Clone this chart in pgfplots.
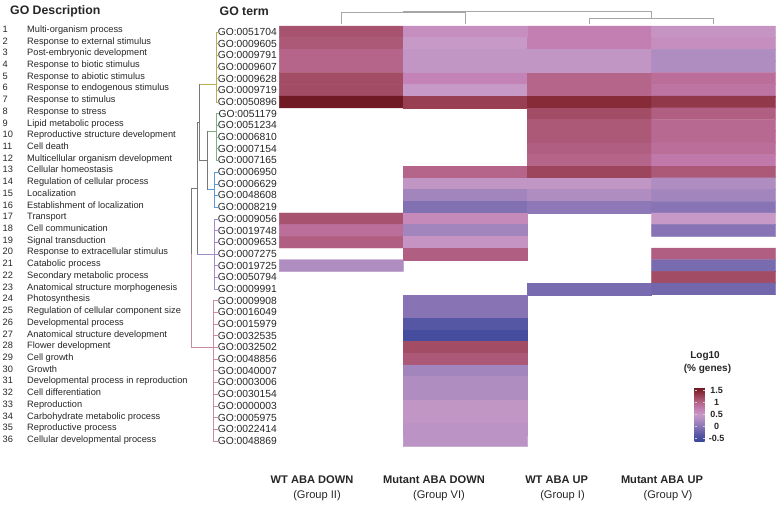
\documentclass[border=0pt]{standalone}
\usepackage{pgfplots}
\pgfplotsset{compat=1.18}
\usepackage{fontspec}
\setmainfont{Liberation Sans}
\pgfplotsset{
 colormap={go}{rgb255(0pt)=(58,70,155) rgb255(30pt)=(92,90,166) rgb255(60pt)=(136,116,181) rgb255(90pt)=(176,141,193) rgb255(110pt)=(199,153,199) rgb255(135pt)=(195,126,178) rgb255(160pt)=(181,100,138) rgb255(180pt)=(163,76,101) rgb255(205pt)=(135,43,57) rgb255(225pt)=(105,20,30)}
}
\definecolor{dolive}{RGB}{181,174,94}
\definecolor{dgreen}{RGB}{127,175,127}
\definecolor{dblue}{RGB}{91,155,213}
\definecolor{dpurple}{RGB}{160,140,200}
\definecolor{dpink}{RGB}{199,139,165}
\definecolor{dgray}{RGB}{120,120,120}
\begin{document}
\begin{tikzpicture}[x=1pt,y=1pt]
\path[use as bounding box] (0pt,0pt) rectangle (777pt,504pt);
\begin{axis}[
 at={(279.3pt,57.3pt)}, anchor=south west,
 scale only axis, width=496.4pt, height=420.7pt,
 xmin=-0.5, xmax=3.5, ymin=0.5, ymax=36.5, y dir=reverse,
 axis line style={draw=none}, xtick=\empty,
 ytick={1,...,36},
 yticklabels={GO:0051704,GO:0009605,GO:0009791,GO:0009607,GO:0009628,GO:0009719,GO:0050896,GO:0051179,GO:0051234,GO:0006810,GO:0007154,GO:0007165,GO:0006950,GO:0006629,GO:0048608,GO:0008219,GO:0009056,GO:0019748,GO:0009653,GO:0007275,GO:0019725,GO:0050794,GO:0009991,GO:0009908,GO:0016049,GO:0015979,GO:0032535,GO:0032502,GO:0048856,GO:0040007,GO:0003006,GO:0030154,GO:0000003,GO:0005975,GO:0022414,GO:0048869},
 yticklabel style={font=\fontsize{10.3}{12}\selectfont, inner sep=0pt, xshift=-2.3pt, text=black!85},
 major tick length=0pt,
 clip=false,
 colormap name=go, point meta min=-0.6, point meta max=1.65,
 colorbar,
 colorbar style={
  at={(parent axis.south east)}, anchor=south west, xshift=-89.7pt, yshift=5.7pt,
  scale only axis, width=10pt, height=54pt, y dir=normal,
  ytick={-0.5,0,0.5,1,1.5}, yticklabels={-0.5,0,0.5,1,1.5},
  yticklabel style={font=\bfseries\fontsize{9}{10}\selectfont, anchor=center, xshift=12pt, inner sep=0pt, text=black!85},
  axis line style={draw=none},
  major tick length=2pt, tick align=inside, tick style={white!80!black, line width=0.5pt}
 }
]
\addplot[matrix plot*, mesh/cols=4, point meta=explicit] table[meta=c] {
x y c
0 1 1.15
1 1 0.60
2 1 0.75
3 1 0.55
0 2 1.10
1 2 0.50
2 2 0.75
3 2 0.60
0 3 1.00
1 3 0.45
2 3 0.45
3 3 0.30
0 4 1.00
1 4 0.45
2 4 0.45
3 4 0.30
0 5 1.20
1 5 0.70
2 5 1.00
3 5 0.90
0 6 1.20
1 6 0.50
2 6 1.00
3 6 0.85
0 7 1.60
1 7 1.30
2 7 1.45
3 7 1.35
0 8 nan
1 8 nan
2 8 1.20
3 8 1.05
0 9 nan
1 9 nan
2 9 1.10
3 9 0.95
0 10 nan
1 10 nan
2 10 1.10
3 10 0.95
0 11 nan
1 11 nan
2 11 1.05
3 11 0.90
0 12 nan
1 12 nan
2 12 1.00
3 12 0.80
0 13 nan
1 13 1.00
2 13 1.25
3 13 1.10
0 14 nan
1 14 0.45
2 14 0.45
3 14 0.30
0 15 nan
1 15 0.20
2 15 0.30
3 15 0.20
0 16 nan
1 16 -0.05
2 16 0.05
3 16 0.00
0 17 1.15
1 17 0.65
2 17 nan
3 17 0.50
0 18 0.90
1 18 0.20
2 18 nan
3 18 0.00
0 19 1.05
1 19 0.55
2 19 nan
3 19 nan
0 20 nan
1 20 1.05
2 20 nan
3 20 1.05
0 21 0.30
1 21 nan
2 21 nan
3 21 -0.10
0 22 nan
1 22 nan
2 22 nan
3 22 1.20
0 23 nan
1 23 nan
2 23 -0.10
3 23 -0.15
0 24 nan
1 24 0.00
2 24 nan
3 24 nan
0 25 nan
1 25 0.00
2 25 nan
3 25 nan
0 26 nan
1 26 -0.35
2 26 nan
3 26 nan
0 27 nan
1 27 -0.50
2 27 nan
3 27 nan
0 28 nan
1 28 1.20
2 28 nan
3 28 nan
0 29 nan
1 29 1.10
2 29 nan
3 29 nan
0 30 nan
1 30 0.20
2 30 nan
3 30 nan
0 31 nan
1 31 0.30
2 31 nan
3 31 nan
0 32 nan
1 32 0.30
2 32 nan
3 32 nan
0 33 nan
1 33 0.45
2 33 nan
3 33 nan
0 34 nan
1 34 0.45
2 34 nan
3 34 nan
0 35 nan
1 35 0.40
2 35 nan
3 35 nan
0 36 nan
1 36 0.40
2 36 nan
3 36 nan
};
% column dendrogram
\addplot[gray!70, line width=0.8pt, mark=none, forget plot] coordinates {(0,0.329) (0,-0.638) (1,-0.638) (1,0.329)};
\addplot[gray!70, line width=0.8pt, mark=none, forget plot] coordinates {(2,0.329) (2,-0.159) (3,-0.159) (3,0.329)};
\addplot[gray!70, line width=0.8pt, mark=none, forget plot] coordinates {(0.5,-0.638) (0.5,-0.784) (2.5,-0.784) (2.5,-0.159)};
% row dendrogram
\addplot[dolive, line width=0.5pt, mark=none, unbounded coords=jump, forget plot] coordinates {(-0.9883,1) (-1.0044,1) (-1.0044,7) (-0.9883,7) (nan,nan) (-0.9883,2) (-1.0044,2) (nan,nan) (-0.9883,3) (-1.0044,3) (nan,nan) (-0.9883,4) (-1.0044,4) (nan,nan) (-0.9883,5) (-1.0044,5) (nan,nan) (-0.9883,6) (-1.0044,6) (nan,nan) (-1.0044,5.5) (-1.1471,5.5)};
\addplot[dgreen, line width=0.5pt, mark=none, unbounded coords=jump, forget plot] coordinates {(-0.9883,8) (-1.0044,8) (-1.0044,12) (-0.9883,12) (nan,nan) (-0.9883,9) (-1.0044,9) (nan,nan) (-0.9883,10) (-1.0044,10) (nan,nan) (-0.9883,11) (-1.0044,11) (nan,nan) (-1.0044,9.5) (-1.0826,9.5)};
\addplot[dblue, line width=0.5pt, mark=none, unbounded coords=jump, forget plot] coordinates {(-0.9883,13) (-1.0262,13) (-1.0262,16) (-0.9883,16) (nan,nan) (-0.9883,14) (-1.0262,14) (nan,nan) (-0.9883,15) (-1.0262,15) (nan,nan) (-1.0262,14.5) (-1.0826,14.5)};
\addplot[dgray, line width=0.5pt, mark=none, unbounded coords=jump, forget plot] coordinates {(-1.0826,9.5) (-1.0826,14.5) (nan,nan) (-1.0826,12) (-1.1471,12) (nan,nan) (-1.1471,5.5) (-1.1471,12) (nan,nan) (-1.1471,8.75) (-1.1632,8.75) (nan,nan) (-1.1632,8.75) (-1.1632,20) (nan,nan) (-1.1632,14.4) (-1.2115,14.4) (-1.2115,20)};
\addplot[dpurple, line width=0.5pt, mark=none, unbounded coords=jump, forget plot] coordinates {(-0.9883,17) (-1.0262,17) (-1.0262,23) (-0.9883,23) (nan,nan) (-0.9883,18) (-1.0262,18) (nan,nan) (-0.9883,19) (-1.0262,19) (nan,nan) (-0.9883,20) (-1.0262,20) (nan,nan) (-0.9883,21) (-1.0262,21) (nan,nan) (-0.9883,22) (-1.0262,22) (nan,nan) (-1.0262,20) (-1.1632,20)};
\addplot[dpink, line width=0.5pt, mark=none, unbounded coords=jump, forget plot] coordinates {(-1.2115,20) (-1.2115,28) (-1.0302,28) (nan,nan) (-0.9883,24) (-1.0302,24) (-1.0302,36) (-0.9883,36) (nan,nan) (-0.9883,25) (-1.0302,25) (nan,nan) (-0.9883,26) (-1.0302,26) (nan,nan) (-0.9883,27) (-1.0302,27) (nan,nan) (-0.9883,28) (-1.0302,28) (nan,nan) (-0.9883,29) (-1.0302,29) (nan,nan) (-0.9883,30) (-1.0302,30) (nan,nan) (-0.9883,31) (-1.0302,31) (nan,nan) (-0.9883,32) (-1.0302,32) (nan,nan) (-0.9883,33) (-1.0302,33) (nan,nan) (-0.9883,34) (-1.0302,34) (nan,nan) (-0.9883,35) (-1.0302,35)};
\end{axis}
% headers
\node[anchor=base west, inner sep=0pt, font=\bfseries\fontsize{12.3}{14}\selectfont, text=black!85] at (10,489) {GO Description};
\node[anchor=base west, inner sep=0pt, font=\bfseries\fontsize{12.3}{14}\selectfont, text=black!85] at (219.5,488.5) {GO term};
% description list
\foreach \i/\t in {1/Multi-organism process,2/Response to external stimulus,3/Post-embryonic development,4/Response to biotic stimulus,5/Response to abiotic stimulus,6/Response to endogenous stimulus,7/Response to stimulus,8/Response to stress,9/Lipid metabolic process,10/Reproductive structure development,11/Cell death,12/Multicellular organism development,13/Cellular homeostasis,14/Regulation of cellular process,15/Localization,16/Establishment of localization,17/Transport,18/Cell communication,19/Signal transduction,20/Response to extracellular stimulus,21/Catabolic process,22/Secondary metabolic process,23/Anatomical structure morphogenesis,24/Photosynthesis,25/Regulation of cellular component size,26/Developmental process,27/Anatomical structure development,28/Flower development,29/Cell growth,30/Growth,31/Developmental process in reproduction,32/Cell differentiation,33/Reproduction,34/Carbohydrate metabolic process,35/Reproductive process,36/Cellular developmental process}{
 \pgfmathsetmacro\yy{504-32.3-11.72*(\i-1)}
 \node[anchor=base west, inner sep=0pt, font=\fontsize{9.25}{11}\selectfont, text=black!85] at (2.5,\yy) {\i};
 \node[anchor=base west, inner sep=0pt, font=\fontsize{9.25}{11}\selectfont, text=black!85] at (27,\yy) {\t};
}
% column labels
\node[anchor=base, inner sep=0pt, font=\bfseries\fontsize{11.1}{13}\selectfont, text=black!85] at (312,20.5) {WT ABA DOWN};
\node[anchor=base, inner sep=0pt, font=\bfseries\fontsize{11.1}{13}\selectfont, text=black!85] at (434,20.5) {Mutant ABA DOWN};
\node[anchor=base, inner sep=0pt, font=\bfseries\fontsize{11.1}{13}\selectfont, text=black!85] at (556.7,20.5) {WT ABA UP};
\node[anchor=base, inner sep=0pt, font=\bfseries\fontsize{11.1}{13}\selectfont, text=black!85] at (662,20.5) {Mutant ABA UP};
\node[anchor=base, inner sep=0pt, font=\fontsize{11.1}{13}\selectfont, text=black!85] at (317,5.5) {(Group II)};
\node[anchor=base, inner sep=0pt, font=\fontsize{11.1}{13}\selectfont, text=black!85] at (439,5.5) {(Group VI)};
\node[anchor=base, inner sep=0pt, font=\fontsize{11.1}{13}\selectfont, text=black!85] at (562.5,5.5) {(Group I)};
\node[anchor=base, inner sep=0pt, font=\fontsize{11.1}{13}\selectfont, text=black!85] at (668,5.5) {(Group V)};
% legend title
\node[anchor=base, inner sep=0pt, font=\bfseries\fontsize{10}{12}\selectfont, text=black!85] at (705,145) {Log10};
\node[anchor=base, inner sep=0pt, font=\bfseries\fontsize{10}{12}\selectfont, text=black!85] at (707.5,132.5) {(\% genes)};
\end{tikzpicture}
\end{document}
